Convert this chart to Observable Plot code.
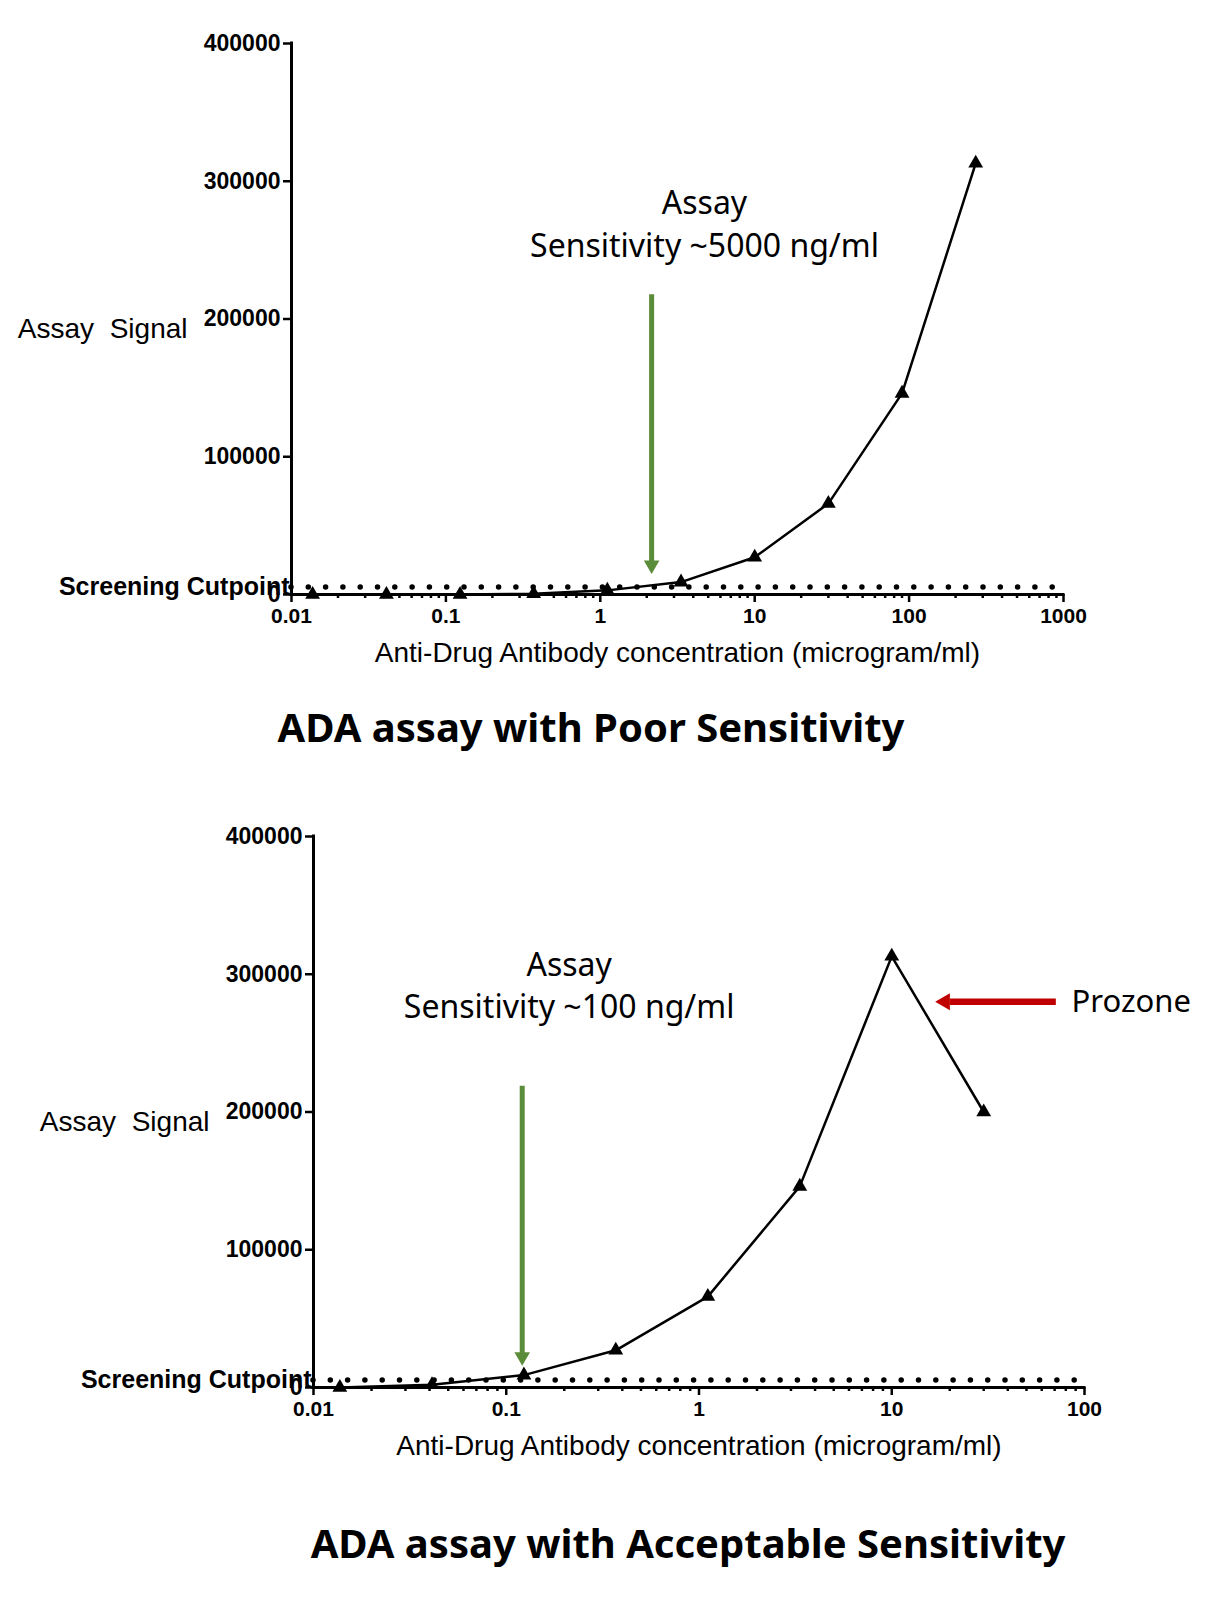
<!DOCTYPE html>
<html><head><meta charset="utf-8">
<script src="https://cdn.jsdelivr.net/npm/d3@7"></script>
<script src="https://cdn.jsdelivr.net/npm/@observablehq/plot@0.6"></script>
<style>
body{margin:0;background:#fff;}
#wrap{position:relative;width:1212px;height:1600px;background:#fff;}
.chart{position:absolute;left:0;}
.chart text{white-space:pre;}
.title{position:absolute;font-family:"Noto Sans",sans-serif;font-weight:bold;font-size:40px;white-space:nowrap;transform:translate(-50%,-50%);color:#000;}
</style></head><body><div id="wrap"></div>
<script>
// ---- Data: top chart (poor sensitivity) ----
const topConc = [0.0137, 0.0412, 0.1235, 0.370, 1.111, 3.333, 10, 30, 90, 270];
const topSignal = [0, 0, 0, 500, 3000, 9000, 27000, 66000, 146000, 313000];
const topTicks = [0.01, 0.1, 1, 10, 100, 1000];
const topTickLabels = ["0.01", "0.1", "1", "10", "100", "1000"];
const topTitle = "ADA assay with Poor Sensitivity";
const topNote = "Assay\nSensitivity ~5000 ng/ml";

// ---- Data: bottom chart (acceptable sensitivity) ----
const botConc = [0.0137, 0.0412, 0.1235, 0.370, 1.111, 3.333, 10, 30];
const botSignal = [0, 2000, 9000, 27000, 66000, 146000, 313000, 200000];
const botTicks = [0.01, 0.1, 1, 10, 100];
const botTickLabels = ["0.01", "0.1", "1", "10", "100"];
const botTitle = "ADA assay with Acceptable Sensitivity";
const botNote = "Assay\nSensitivity ~100 ng/ml";

// ---- Shared ----
const yTicks = [0, 100000, 200000, 300000, 400000];
const cutpoint = 5500;
const xLabel = "Anti-Drug Antibody concentration (microgram/ml)";
const yLabel = "Assay  Signal";
const cutLabel = "Screening Cutpoint";
const prozoneLabel = "Prozone";

// annotation anchors (data units)
const topNotePos = {x: 4.73, y: 270500};
const topArrow = {x: 2.15, y1: 218000, y2: 24000, tip: 15000};
const botNotePos = {x: 0.212, y: 293500};
const botArrow = {x: 0.121, y1: 219000, y2: 24700, tip: 16000};
const redArrow = {y: 280000, x1: 71, x2: 20.0, tip: 16.8};
const prozonePos = {x: 85.7, y: 280000};

const GREEN = "#5b8c3a";
const RED = "#c00000";
const tickFont = "'Liberation Sans', Arial, sans-serif";

function makeChart(cfg) {
  const data = cfg.conc.map((x, i) => ({x, y: cfg.signal[i]}));
  const domain = [cfg.ticks[0], cfg.ticks[cfg.ticks.length - 1]];
  const minors = cfg.ticks.slice(0, -1).flatMap(m => [2,3,4,5,6,7,8,9].map(k => m * k));
  const marks = [
    // minor x ticks
    Plot.axisX(minors, {tickSize: 4, tickFormat: () => "", strokeWidth: 2.5, label: null}),
    // major x ticks
    Plot.axisX(cfg.ticks, {tickSize: 8, tickPadding: 6, strokeWidth: 2.5, label: null,
      tickFormat: d => cfg.tickLabels[cfg.ticks.indexOf(d)], fontSize: 21, fontWeight: "bold", fontFamily: tickFont}),
    Plot.axisY(yTicks, {tickSize: 8, tickPadding: 3, strokeWidth: 2.5, label: null,
      tickFormat: d3.format("d"), fontSize: 23, fontWeight: "bold", fontFamily: tickFont}),
    // axis lines
    Plot.ruleY([0], {x1: domain[0], x2: domain[1], strokeWidth: 3, strokeLinecap: "square"}),
    Plot.ruleX([domain[0]], {y1: 0, y2: yTicks[yTicks.length - 1], strokeWidth: 3, strokeLinecap: "square"}),
    // cutpoint dotted line
    Plot.ruleY([cutpoint], {x1: domain[0], x2: domain[1], strokeWidth: 5.5, strokeDasharray: "0 17.3", strokeLinecap: "round"}),
    Plot.text([{x: domain[0], y: cutpoint, t: cutLabel}], {x: "x", y: "y", text: "t", textAnchor: "end", dx: -2, dy: 0,
      fontSize: 25, fontWeight: "bold", fontFamily: tickFont}),
    // y label
    Plot.text([{x: domain[0], y: 200000, t: yLabel}], {x: "x", y: "y", text: "t", textAnchor: "end", dx: -104, dy: 10,
      fontSize: 28, fontFamily: tickFont}),
    // x label
    Plot.text([xLabel], {frameAnchor: "bottom", dy: 67, fontSize: 28, fontFamily: tickFont}),
    // data
    Plot.line(data, {x: "x", y: "y", stroke: "black", strokeWidth: 2.5}),
    Plot.dot(data, {x: "x", y: "y", symbol: "triangle", r: 5.5, fill: "black"}),
    // annotation
    Plot.text([{x: cfg.notePos.x, y: cfg.notePos.y, t: cfg.note}], {x: "x", y: "y", text: "t",
      fontSize: 32, lineHeight: 1.33, fontFamily: "'Noto Sans', sans-serif"}),
    // green arrow
    Plot.link([cfg.arrow], {x1: "x", x2: "x", y1: "y1", y2: "y2", stroke: GREEN, strokeWidth: 5}),
    Plot.dot([cfg.arrow], {x: "x", y: "tip", symbol: "triangle", r: 5.8, fill: GREEN, rotate: 180, dy: -8.8})
  ];
  if (cfg.red) {
    marks.push(
      Plot.link([cfg.red], {x1: "x1", x2: "x2", y1: "y", y2: "y", stroke: RED, strokeWidth: 6.5}),
      Plot.dot([cfg.red], {x: "tip", y: "y", symbol: "triangle", r: 6.3, fill: RED, rotate: -90, dx: 9.8}),
      Plot.text([{x: prozonePos.x, y: prozonePos.y, t: prozoneLabel}], {x: "x", y: "y", text: "t", textAnchor: "start",
        fontSize: 31, fontFamily: "'Noto Sans', sans-serif"})
    );
  }
  const svg = Plot.plot({
    width: 1212, height: cfg.height,
    marginTop: cfg.mt, marginBottom: cfg.mb, marginLeft: cfg.ml, marginRight: cfg.mr,
    style: {background: "transparent", overflow: "visible", color: "black"},
    x: {type: "log", domain},
    y: {domain: [0, 400000]},
    marks
  });
  svg.classList.add("chart");
  svg.style.top = cfg.top + "px";
  return svg;
}

const wrap = document.getElementById("wrap");
wrap.appendChild(makeChart({
  conc: topConc, signal: topSignal, ticks: topTicks, tickLabels: topTickLabels,
  note: topNote, notePos: topNotePos, arrow: topArrow,
  top: 0, height: 700, mt: 43, mb: 106, ml: 291, mr: 149
}));
wrap.appendChild(makeChart({
  conc: botConc, signal: botSignal, ticks: botTicks, tickLabels: botTickLabels,
  note: botNote, notePos: botNotePos, arrow: botArrow, red: redArrow,
  top: 780, height: 700, mt: 56, mb: 93, ml: 313, mr: 128
}));

function addTitle(text, x, y) {
  const d = document.createElement("div");
  d.className = "title";
  d.textContent = text;
  d.style.left = x + "px";
  d.style.top = y + "px";
  wrap.appendChild(d);
}
addTitle(topTitle, 591, 726);
addTitle(botTitle, 688, 1542);
</script>
</body></html>
